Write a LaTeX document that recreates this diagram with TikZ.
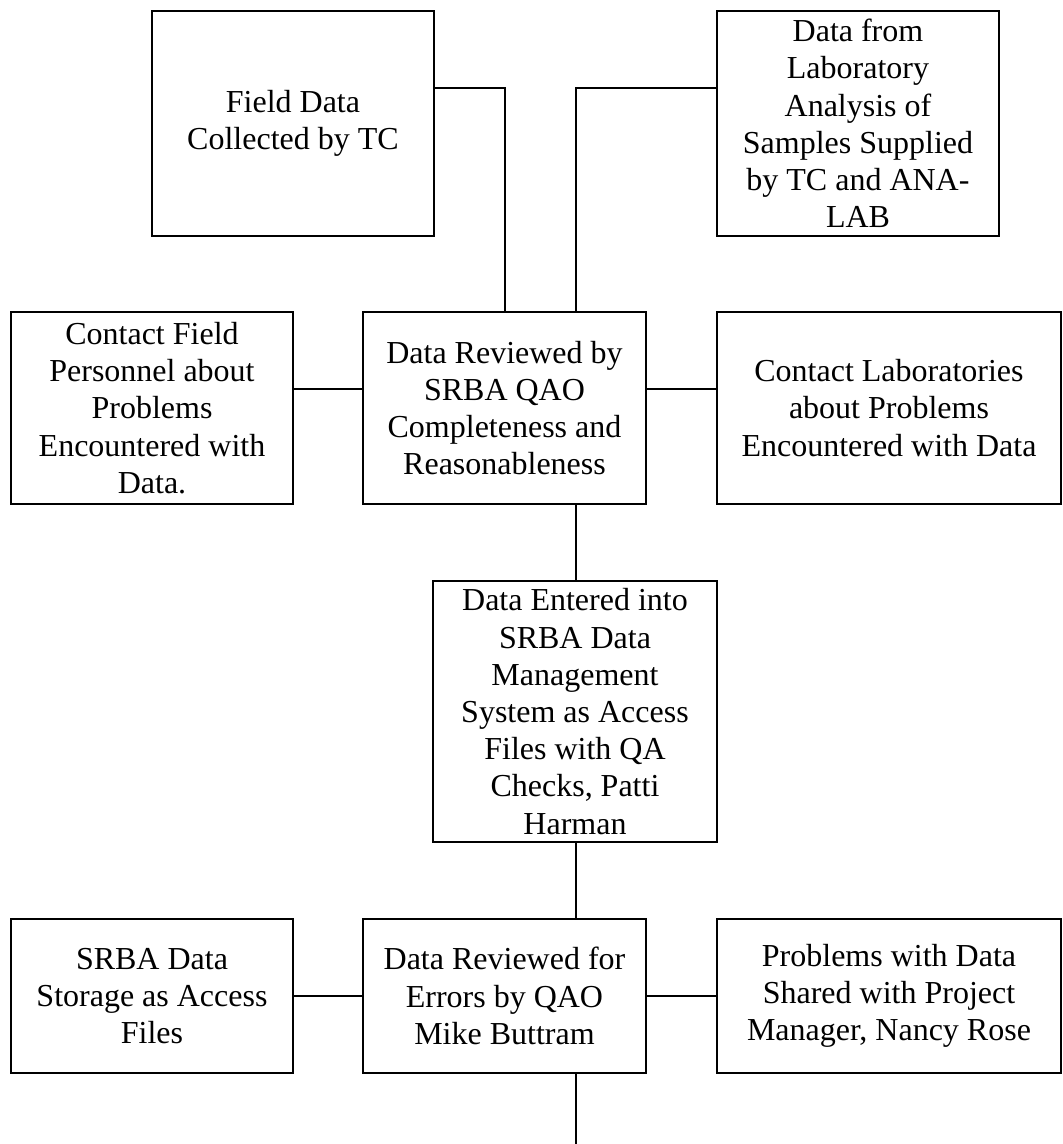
\documentclass[tikz,border=0pt]{standalone}
\usepackage{fontspec}
\setmainfont{Liberation Serif}
\begin{document}
\begin{tikzpicture}[x=1pt,y=-1pt,
  box/.style={draw=black, line width=2.4pt, fill=white, align=center, inner sep=0pt,
    font=\fontsize{32}{37.2}\selectfont},
  link/.style={draw=black, line width=2.4pt}]
\useasboundingbox (0,0) rectangle (1063,1144);
% boxes
\node[box, minimum width=282, minimum height=225] (fd) at (293,123.5) {Field Data\\Collected by TC};
\node[box, minimum width=282, minimum height=225] (lab) at (858,123.5) {Data from\\Laboratory\\Analysis of\\Samples Supplied\\by TC and ANA-\\LAB};
\node[box, minimum width=282, minimum height=192] (cf) at (152,408) {Contact Field\\Personnel about\\Problems\\Encountered with\\Data.};
\node[box, minimum width=283, minimum height=192] (rev) at (504.5,408) {Data Reviewed by\\SRBA QAO\\Completeness and\\Reasonableness};
\node[box, minimum width=344, minimum height=192] (cl) at (889,408) {Contact Laboratories\\about Problems\\Encountered with Data};
\node[box, minimum width=284, minimum height=261] (de) at (575,711.5) {Data Entered into\\SRBA Data\\Management\\System as Access\\Files with QA\\Checks, Patti\\Harman};
\node[box, minimum width=282, minimum height=154] (st) at (152,996) {SRBA Data\\Storage as Access\\Files};
\node[box, minimum width=283, minimum height=154] (er) at (504.5,996) {Data Reviewed for\\Errors by QAO\\Mike Buttram};
\node[box, minimum width=344, minimum height=154] (pr) at (889,996) {Problems with Data\\Shared with Project\\Manager, Nancy Rose};
% helper coordinates
\coordinate (k1) at (505,88);
\coordinate (k2) at (576,88);
\coordinate (mid) at (0,389);
\coordinate (tail) at (576,1144);
% connectors
\draw[link] (fd.east |- k1) -| (rev.north -| k1);
\draw[link] (lab.west |- k2) -| (rev.north -| k2);
\draw[link] (cf.east |- mid) -- (rev.west |- mid);
\draw[link] (rev.east |- mid) -- (cl.west |- mid);
\draw[link] (rev.south -| k2) -- (de.north -| k2);
\draw[link] (de.south -| k2) -- (er.north -| k2);
\draw[link] (st.east) -- (er.west);
\draw[link] (er.east) -- (pr.west);
\draw[link] (er.south -| tail) -- (tail);
\end{tikzpicture}
\end{document}
